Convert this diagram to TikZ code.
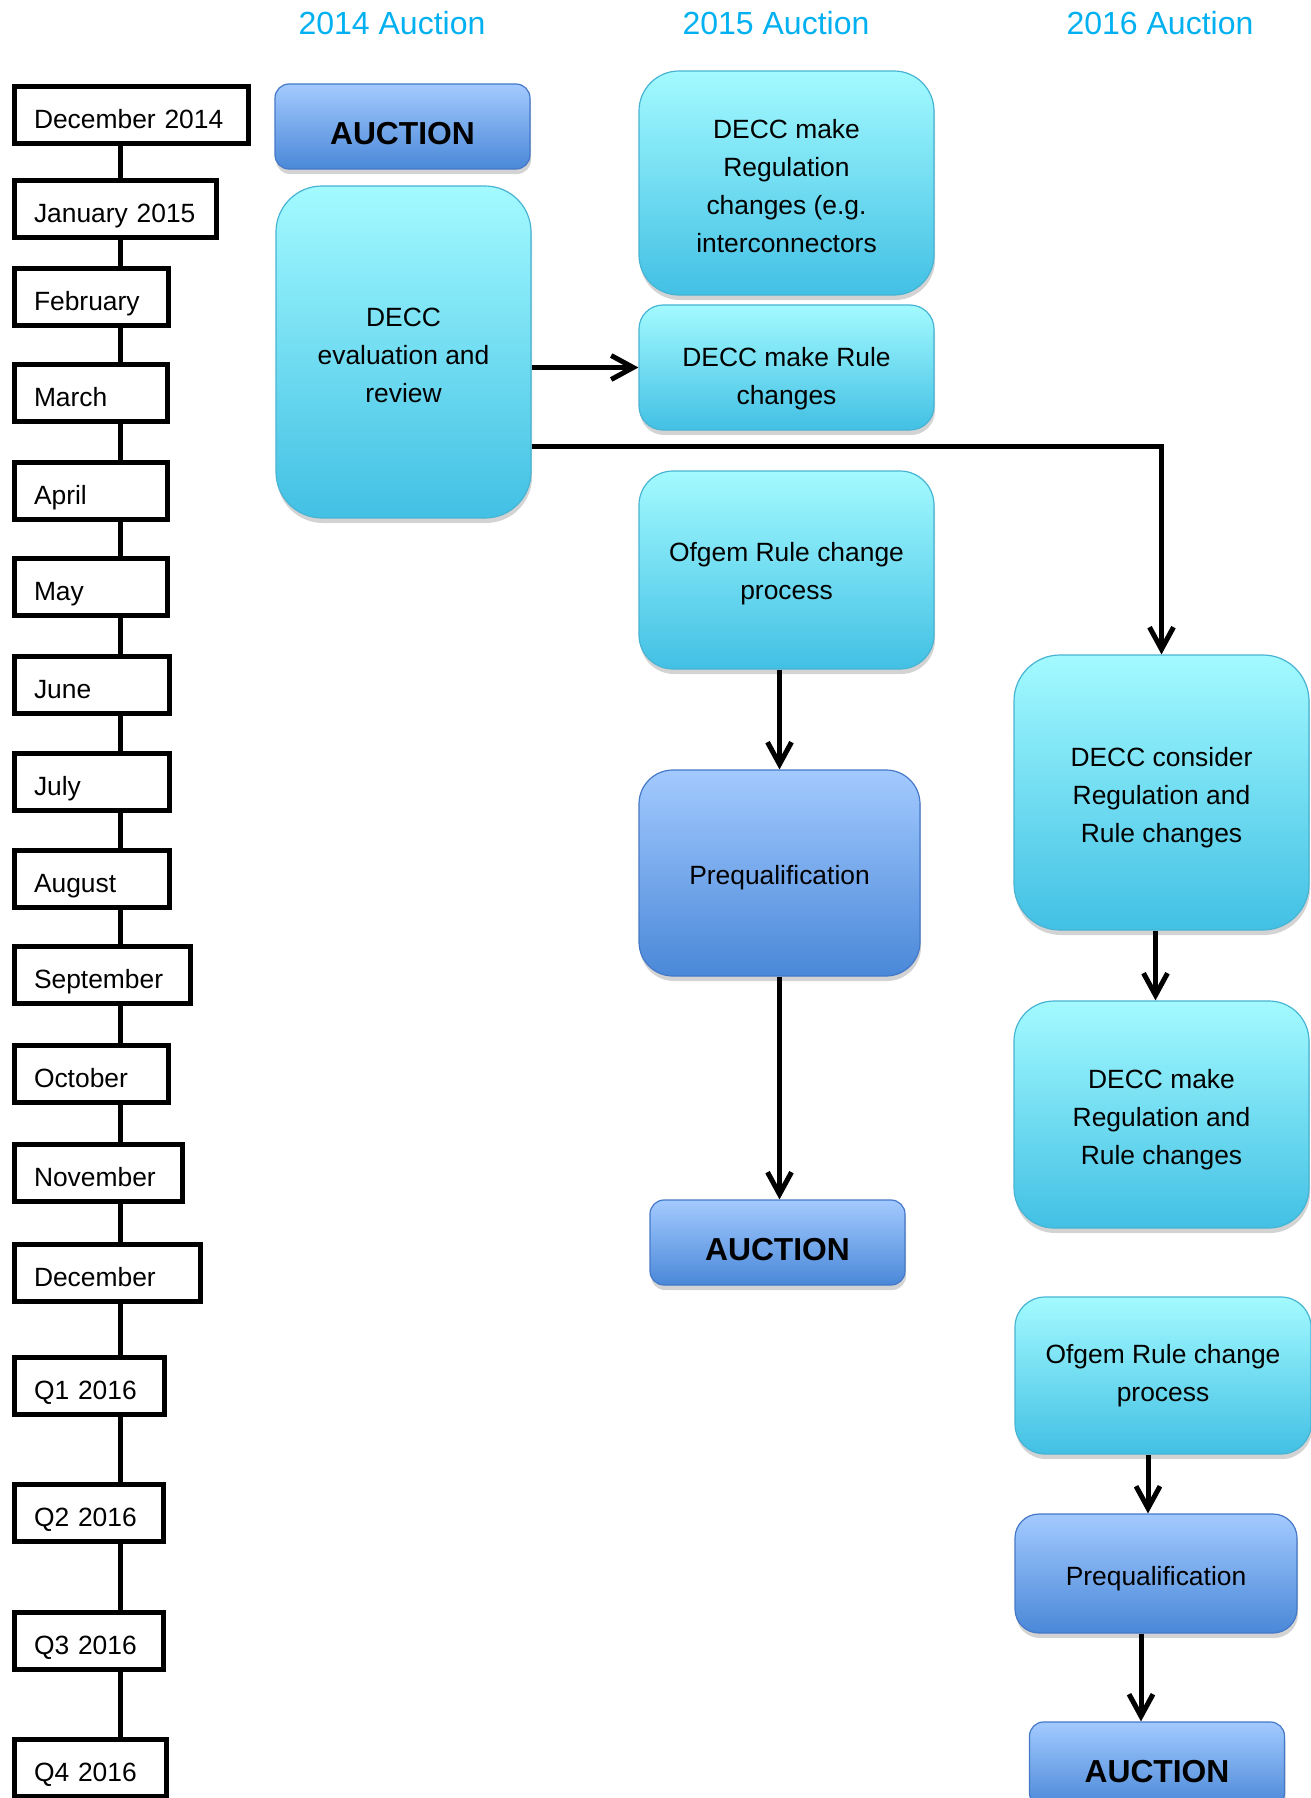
\documentclass[tikz,border=0pt]{standalone}
\usepackage{fontspec}
\setmainfont{Liberation Sans}
\usetikzlibrary{arrows.meta, shadows, calc}
\definecolor{AuctionTitle}{RGB}{0,176,240}
\definecolor{CyanTop}{RGB}{163,250,255}
\definecolor{CyanBot}{RGB}{66,192,228}
\definecolor{CyanLine}{RGB}{72,180,212}
\definecolor{BlueTop}{RGB}{163,202,255}
\definecolor{BlueBot}{RGB}{74,136,216}
\definecolor{BlueLine}{RGB}{70,120,200}

\begin{document}
\begin{tikzpicture}[x=0.5pt, y=-0.5pt,
    month/.style={draw, line width=2.5pt, fill=white, anchor=north west, inner xsep=9.75pt, minimum height=28.5pt, align=left, text height=13.5pt, text depth=0pt, font=\fontsize{13.2}{16}\selectfont},
    spine/.style={line width=2.5pt},
    box/.style={top color=CyanTop, bottom color=CyanBot, draw=CyanLine, line width=0.6pt, align=center, font=\fontsize{13.2}{19}\selectfont, drop shadow={opacity=0.35, shadow xshift=0.5pt, shadow yshift=-2.5pt}},
    bluebox/.style={box, top color=BlueTop, bottom color=BlueBot, draw=BlueLine, execute at begin node={\rule{0pt}{14.5pt}}},
    auction/.style={bluebox, minimum width=127.5pt, minimum height=42.5pt, rounded corners=7pt, text height=18.4pt, text depth=0pt, font=\bfseries\fontsize{15.9}{19}\selectfont},
    year/.style={text=AuctionTitle, font=\fontsize{16}{19}\selectfont},
    arr/.style={line width=2.5pt, -{Straight Barb[length=11pt, width=12pt]}}]
\useasboundingbox (0,0) rectangle (1311,1798);
\clip (0,0) rectangle (1311,1798);

\node[year] (y14) at (392,23) {2014 Auction};
\node[year] (y15) at (776,23) {2015 Auction};
\node[year] (y16) at (1160,23) {2016 Auction};

\foreach \y/\r/\txt [count=\i, evaluate=\r as \tw using (\r-56)/2] in {84/251/December 2014, 178/219/January 2015, 266/171/February, 362/170/March, 460/170/April, 556/170/May, 654/172/June, 751/172/July, 848/172/August, 944/193/September, 1043/171/October, 1142/185/November, 1242/203/December, 1355/167/Q1 2016, 1482/166/Q2 2016, 1610/166/Q3 2016, 1737/169/Q4 2016}
{
    \node[month, text width=\tw pt] (m\i) at (12,\y) {\txt};
}
\foreach \i in {1,...,16}
{
    \pgfmathtruncatemacro{\j}{\i + 1};
    \coordinate (s\i) at ([xshift=54pt]m\i.south west);
    \draw[spine] (s\i) -- (s\i |- m\j.north);
}

\node[auction] (auc14) at (402.5,126.5) {AUCTION};
\node[box, minimum width=127.5pt, minimum height=166pt, rounded corners=23pt] (eval) at (403.5,352) {\rule{0pt}{12.5pt}DECC\\evaluation and\\review};

\node[box, minimum width=147.5pt, minimum height=112pt, rounded corners=20pt] (reg15) at (786.5,183) {\rule{0pt}{12.5pt}DECC make\\Regulation\\changes (e.g.\\interconnectors};
\node[box, minimum width=147.5pt, minimum height=62.5pt, rounded corners=12pt] (rule15) at (786.5,367.5) {\rule{0pt}{21pt}DECC make Rule\\changes};
\node[box, minimum width=147.5pt, minimum height=99pt, rounded corners=17pt] (ofg15) at (786.5,570) {\rule{0pt}{13.5pt}Ofgem Rule change\\process};
\node[bluebox, minimum width=140.5pt, minimum height=103pt, rounded corners=17pt] (pq15) at (779.5,873) {Prequalification};
\node[auction] (auc15) at (777.5,1242.5) {AUCTION};

\node[box, minimum width=147.5pt, minimum height=137.5pt, rounded corners=23pt] (cons16) at (1161.5,792.5) {\rule{0pt}{14.5pt}DECC consider\\Regulation and\\Rule changes};
\node[box, minimum width=147.5pt, minimum height=113.5pt, rounded corners=20pt] (make16) at (1161.5,1114.5) {\rule{0pt}{14.5pt}DECC make\\Regulation and\\Rule changes};
\node[box, minimum width=148pt, minimum height=78.5pt, rounded corners=15pt] (ofg16) at (1163,1375.5) {Ofgem Rule change\\process};
\node[bluebox, minimum width=141pt, minimum height=59.5pt, rounded corners=12pt] (pq16) at (1156,1573.5) {Prequalification};
\node[auction] (auc16) at (1157,1764.5) {AUCTION};

\draw[arr] (eval.east |- rule15.west) -- (rule15.west);
\draw[arr] ([yshift=-47pt]eval.east) -| (cons16.north);
\draw[arr] (ofg15.south -| pq15.north) -- (pq15.north);
\draw[arr] (pq15.south) -- (pq15.south |- auc15.north);
\draw[arr] ([xshift=-3pt]cons16.south) -- ([xshift=-3pt]cons16.south |- make16.north);
\draw[arr] ([xshift=-4pt]pq16.north |- ofg16.south) -- ([xshift=-4pt]pq16.north);
\draw[arr] ([xshift=-8pt]auc16.north |- pq16.south) -- ([xshift=-8pt]auc16.north);
\end{tikzpicture}
\end{document}
